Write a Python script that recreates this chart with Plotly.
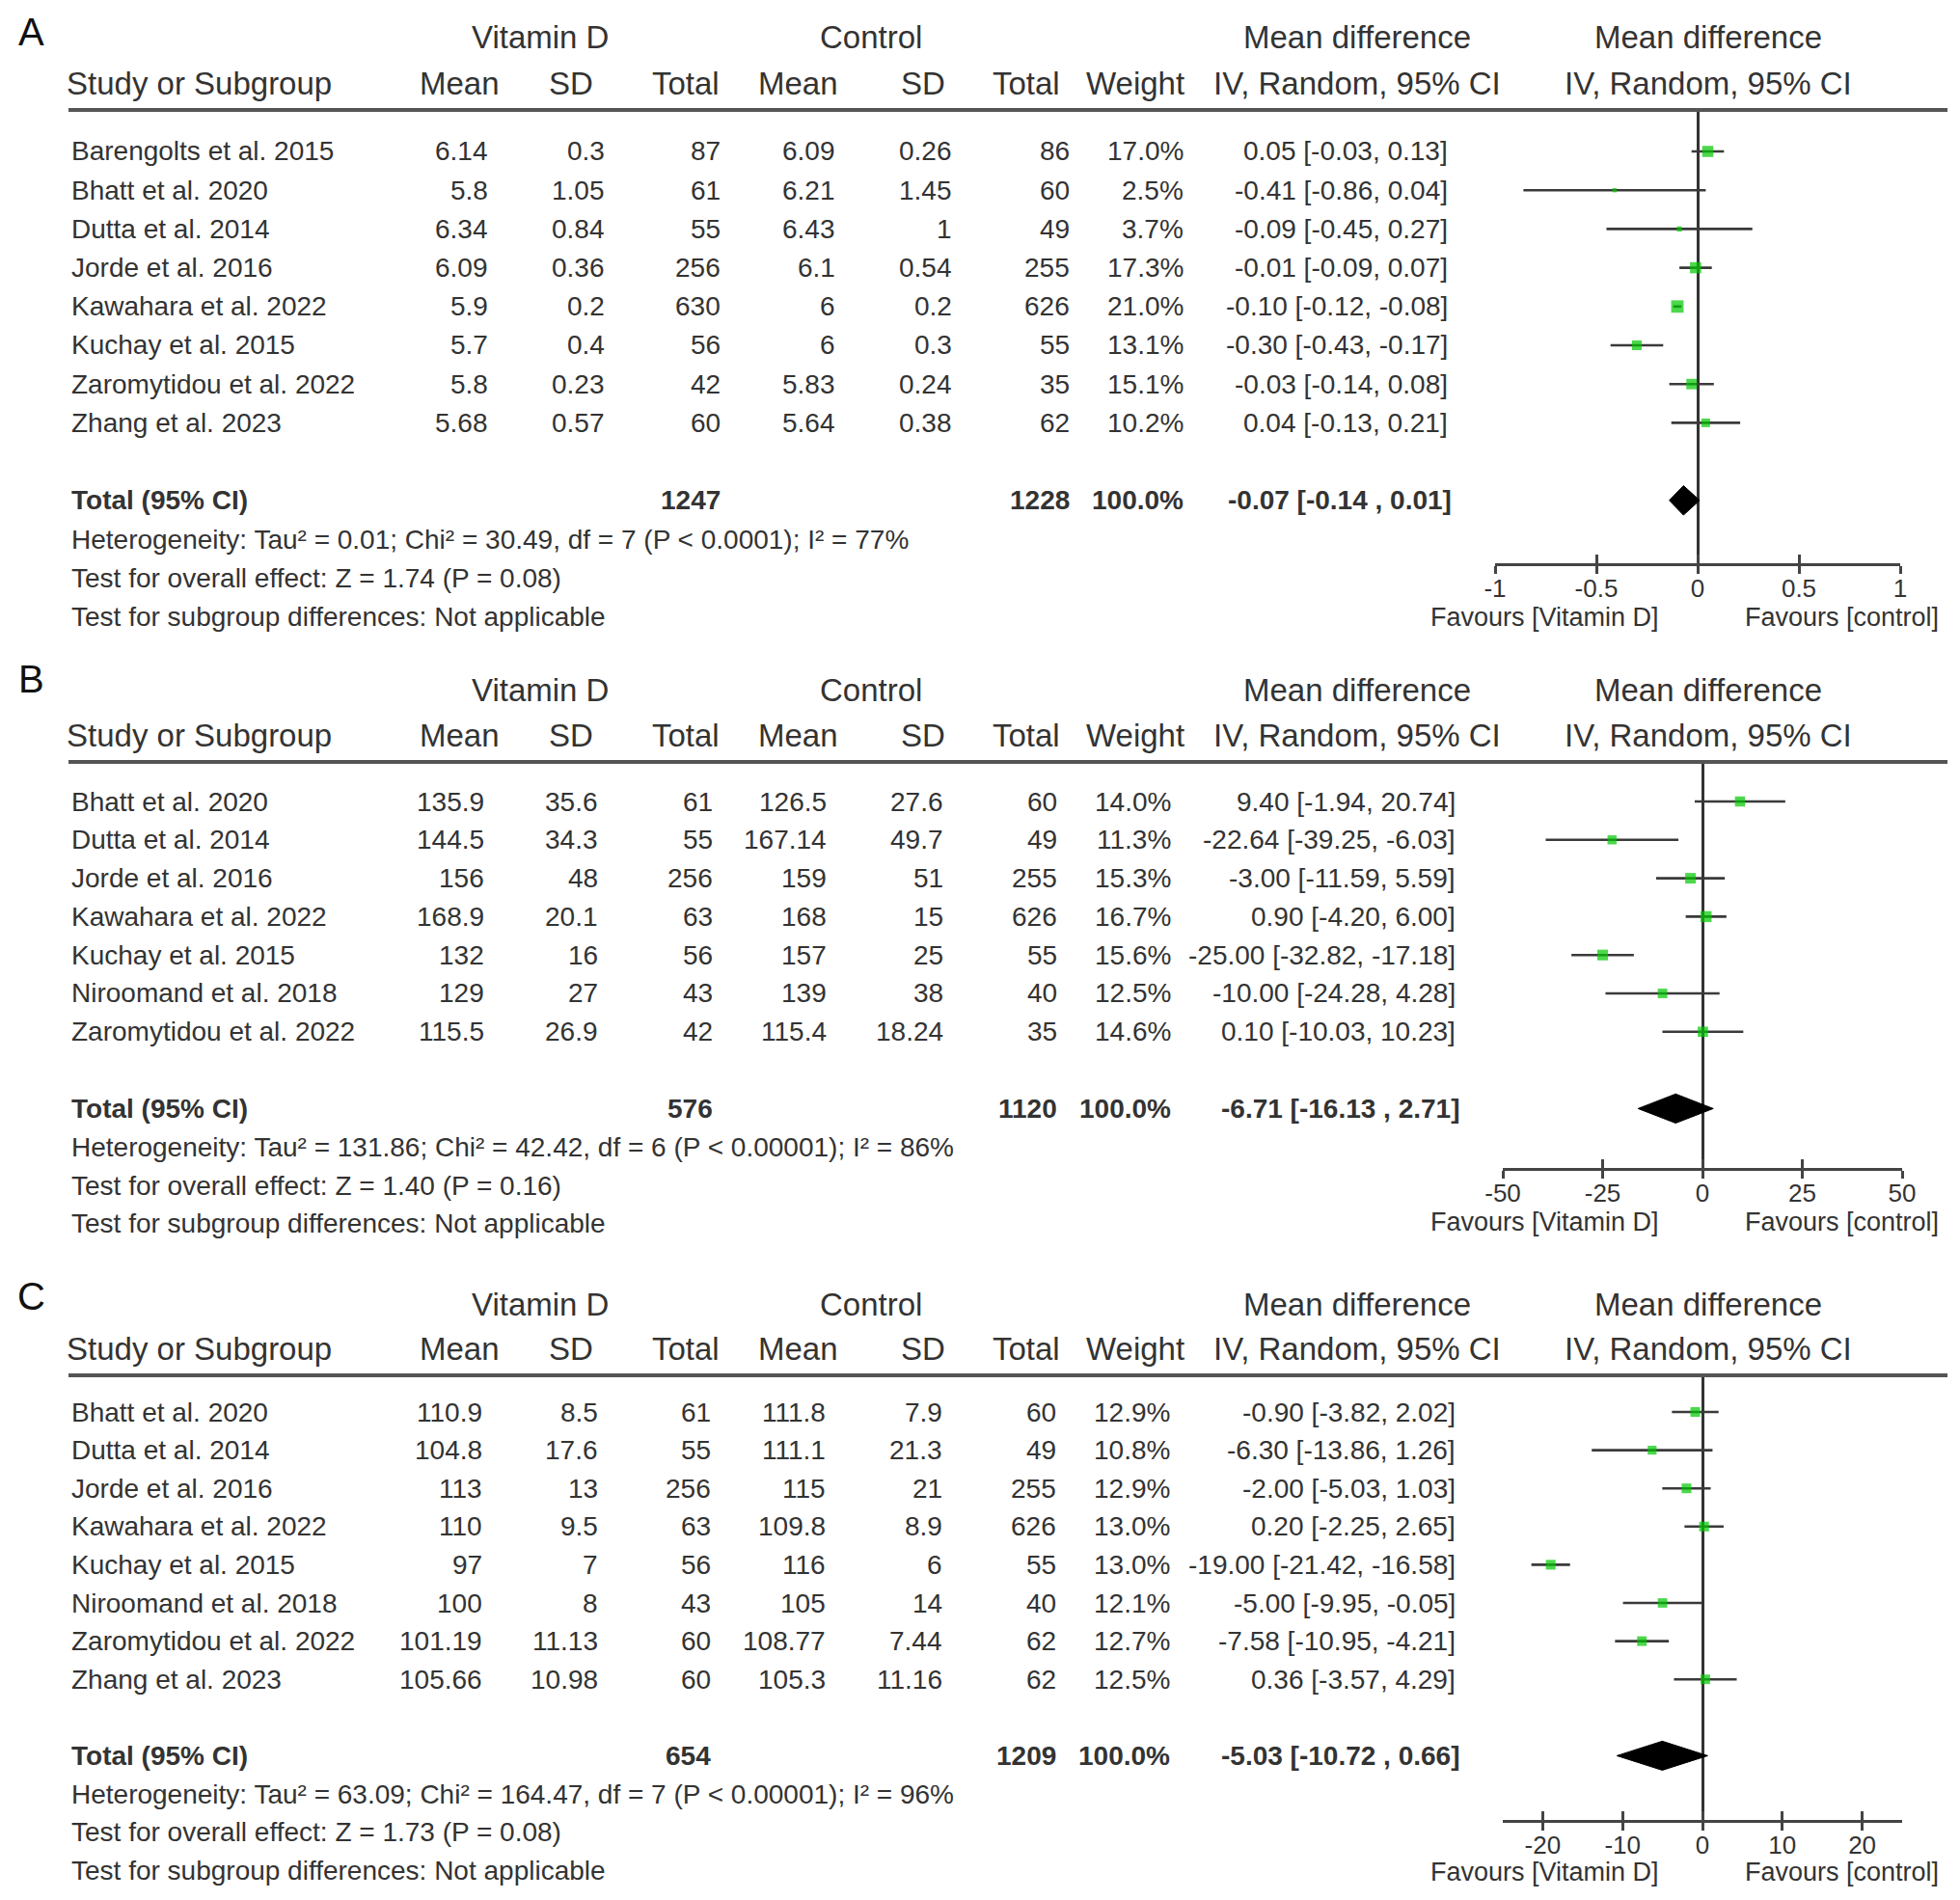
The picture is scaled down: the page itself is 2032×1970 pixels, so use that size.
import math
import plotly.graph_objects as go

W, H = 2032, 1970

# ---------------- Panel A data ----------------
a_studies = ["Barengolts et al. 2015", "Bhatt et al. 2020", "Dutta et al. 2014", "Jorde et al. 2016",
             "Kawahara et al. 2022", "Kuchay et al. 2015", "Zaromytidou et al. 2022", "Zhang et al. 2023"]
a_vit_mean = [6.14, 5.8, 6.34, 6.09, 5.9, 5.7, 5.8, 5.68]
a_vit_sd = [0.3, 1.05, 0.84, 0.36, 0.2, 0.4, 0.23, 0.57]
a_vit_n = [87, 61, 55, 256, 630, 56, 42, 60]
a_ctl_mean = [6.09, 6.21, 6.43, 6.1, 6, 6, 5.83, 5.64]
a_ctl_sd = [0.26, 1.45, 1, 0.54, 0.2, 0.3, 0.24, 0.38]
a_ctl_n = [86, 60, 49, 255, 626, 55, 35, 62]
a_weight = [17.0, 2.5, 3.7, 17.3, 21.0, 13.1, 15.1, 10.2]
a_md = [0.05, -0.41, -0.09, -0.01, -0.10, -0.30, -0.03, 0.04]
a_lo = [-0.03, -0.86, -0.45, -0.09, -0.12, -0.43, -0.14, -0.13]
a_hi = [0.13, 0.04, 0.27, 0.07, -0.08, -0.17, 0.08, 0.21]
a_total = {"vit_n": 1247, "ctl_n": 1228, "weight": 100.0, "md": -0.07, "lo": -0.14, "hi": 0.01}
a_notes = ["Heterogeneity: Tau² = 0.01; Chi² = 30.49, df = 7 (P < 0.0001); I² = 77%",
           "Test for overall effect: Z = 1.74 (P = 0.08)",
           "Test for subgroup differences: Not applicable"]
a_ticks = [-1, -0.5, 0, 0.5, 1]
a_range = [-1, 1]

# ---------------- Panel B data ----------------
b_studies = ["Bhatt et al. 2020", "Dutta et al. 2014", "Jorde et al. 2016", "Kawahara et al. 2022",
             "Kuchay et al. 2015", "Niroomand et al. 2018", "Zaromytidou et al. 2022"]
b_vit_mean = [135.9, 144.5, 156, 168.9, 132, 129, 115.5]
b_vit_sd = [35.6, 34.3, 48, 20.1, 16, 27, 26.9]
b_vit_n = [61, 55, 256, 63, 56, 43, 42]
b_ctl_mean = [126.5, 167.14, 159, 168, 157, 139, 115.4]
b_ctl_sd = [27.6, 49.7, 51, 15, 25, 38, 18.24]
b_ctl_n = [60, 49, 255, 626, 55, 40, 35]
b_weight = [14.0, 11.3, 15.3, 16.7, 15.6, 12.5, 14.6]
b_md = [9.40, -22.64, -3.00, 0.90, -25.00, -10.00, 0.10]
b_lo = [-1.94, -39.25, -11.59, -4.20, -32.82, -24.28, -10.03]
b_hi = [20.74, -6.03, 5.59, 6.00, -17.18, 4.28, 10.23]
b_total = {"vit_n": 576, "ctl_n": 1120, "weight": 100.0, "md": -6.71, "lo": -16.13, "hi": 2.71}
b_notes = ["Heterogeneity: Tau² = 131.86; Chi² = 42.42, df = 6 (P < 0.00001); I² = 86%",
           "Test for overall effect: Z = 1.40 (P = 0.16)",
           "Test for subgroup differences: Not applicable"]
b_ticks = [-50, -25, 0, 25, 50]
b_range = [-50, 50]

# ---------------- Panel C data ----------------
c_studies = ["Bhatt et al. 2020", "Dutta et al. 2014", "Jorde et al. 2016", "Kawahara et al. 2022",
             "Kuchay et al. 2015", "Niroomand et al. 2018", "Zaromytidou et al. 2022", "Zhang et al. 2023"]
c_vit_mean = [110.9, 104.8, 113, 110, 97, 100, 101.19, 105.66]
c_vit_sd = [8.5, 17.6, 13, 9.5, 7, 8, 11.13, 10.98]
c_vit_n = [61, 55, 256, 63, 56, 43, 60, 60]
c_ctl_mean = [111.8, 111.1, 115, 109.8, 116, 105, 108.77, 105.3]
c_ctl_sd = [7.9, 21.3, 21, 8.9, 6, 14, 7.44, 11.16]
c_ctl_n = [60, 49, 255, 626, 55, 40, 62, 62]
c_weight = [12.9, 10.8, 12.9, 13.0, 13.0, 12.1, 12.7, 12.5]
c_md = [-0.90, -6.30, -2.00, 0.20, -19.00, -5.00, -7.58, 0.36]
c_lo = [-3.82, -13.86, -5.03, -2.25, -21.42, -9.95, -10.95, -3.57]
c_hi = [2.02, 1.26, 1.03, 2.65, -16.58, -0.05, -4.21, 4.29]
c_total = {"vit_n": 654, "ctl_n": 1209, "weight": 100.0, "md": -5.03, "lo": -10.72, "hi": 0.66}
c_notes = ["Heterogeneity: Tau² = 63.09; Chi² = 164.47, df = 7 (P < 0.00001); I² = 96%",
           "Test for overall effect: Z = 1.73 (P = 0.08)",
           "Test for subgroup differences: Not applicable"]
c_ticks = [-20, -10, 0, 10, 20]
c_range = [-25, 25]

# ---------------- layout constants (pixels, page coordinates) ----------------
panels = [
    dict(letter="A", studies=a_studies, vm=a_vit_mean, vs=a_vit_sd, vn=a_vit_n, cm=a_ctl_mean, cs=a_ctl_sd,
         cn=a_ctl_n, w=a_weight, md=a_md, lo=a_lo, hi=a_hi, tot=a_total, notes=a_notes, ticks=a_ticks,
         rng=a_range, y0=157, dy=40.2, letter_y=33, h1=39, h2=86, line=114, axis=584,
         xd=(1550, 1970), cols=[508, 629, 749, 868, 989, 1111, 1229, 1503], fav=640),
    dict(letter="B", studies=b_studies, vm=b_vit_mean, vs=b_vit_sd, vn=b_vit_n, cm=b_ctl_mean, cs=b_ctl_sd,
         cn=b_ctl_n, w=b_weight, md=b_md, lo=b_lo, hi=b_hi, tot=b_total, notes=b_notes, ticks=b_ticks,
         rng=b_range, y0=831, dy=39.8, letter_y=704, h1=715, h2=762, line=790, axis=1211,
         xd=(1558, 1972), cols=[504, 622, 741, 859, 980, 1098, 1216, 1511], fav=1267),
    dict(letter="C", studies=c_studies, vm=c_vit_mean, vs=c_vit_sd, vn=c_vit_n, cm=c_ctl_mean, cs=c_ctl_sd,
         cn=c_ctl_n, w=c_weight, md=c_md, lo=c_lo, hi=c_hi, tot=c_total, notes=c_notes, ticks=c_ticks,
         rng=c_range, y0=1464, dy=39.6, letter_y=1344, h1=1352, h2=1398, line=1426, axis=1887,
         xd=(1558, 1972), cols=[502, 622, 739, 858, 979, 1097, 1215, 1511], fav=1941),
]

FONT = "Liberation Sans, Arial, sans-serif"
TXT = "#333333"
ROW_FS = 28
HDR_FS = 33
OFF = 8  # page body margin

fig = go.Figure()
annotations = []
shapes = []


def px_x(x):
    return (x - OFF) / W


def px_y(y):
    return 1 - (y - OFF) / H


def ann(text, x, y, anchor="left", size=ROW_FS, bold=False, color=TXT):
    annotations.append(dict(
        text=f"<b>{text}</b>" if bold else text, x=px_x(x), y=px_y(y), xref="paper", yref="paper",
        xanchor=anchor, yanchor="middle", showarrow=False,
        font=dict(family=FONT, size=size, color=color)))


def g(v):
    return f"{v:g}"


layout_axes = {}
for k, p in enumerate(panels, start=1):
    xa = "x" if k == 1 else f"x{k}"
    ya = "y" if k == 1 else f"y{k}"
    n = len(p["studies"])
    y0, dy = p["y0"], p["dy"]

    def row_px(r, y0=y0, dy=dy):
        return y0 + dy * r

    rows = list(range(n))
    r_total = n + 1

    # ---- text ----
    ann(p["letter"], 32, p["letter_y"], anchor="center", size=40, color="#111111")
    ann("Vitamin D", 560, p["h1"], "center", HDR_FS)
    ann("Control", 903, p["h1"], "center", HDR_FS)
    ann("Mean difference", 1407, p["h1"], "center", HDR_FS)
    ann("Mean difference", 1771, p["h1"], "center", HDR_FS)
    ann("Study or Subgroup", 67, p["h2"], "left", HDR_FS)
    for t, xc in zip(["Mean", "SD", "Total", "Mean", "SD", "Total", "Weight", "IV, Random, 95% CI",
                      "IV, Random, 95% CI"],
                     [476, 592, 711, 827, 957, 1064, 1177, 1407, 1771]):
        ann(t, xc, p["h2"], "center", HDR_FS)

    cols = p["cols"]
    for i in rows:
        yp = row_px(i)
        ann(p["studies"][i], 72, yp)
        vals = [g(p["vm"][i]), g(p["vs"][i]), str(p["vn"][i]), g(p["cm"][i]), g(p["cs"][i]),
                str(p["cn"][i]), f"{p['w'][i]:.1f}%",
                f"{p['md'][i]:.2f} [{p['lo'][i]:.2f}, {p['hi'][i]:.2f}]"]
        for v, xc in zip(vals, cols):
            ann(v, xc, yp, "right")

    tot = p["tot"]
    yt = row_px(r_total)
    ann("Total (95% CI)", 72, yt, bold=True)
    ann(str(tot["vit_n"]), cols[2], yt, "right", bold=True)
    ann(str(tot["ctl_n"]), cols[5], yt, "right", bold=True)
    ann(f"{tot['weight']:.1f}%", cols[6], yt, "right", bold=True)
    ann(f"{tot['md']:.2f} [{tot['lo']:.2f} , {tot['hi']:.2f}]", cols[7] + 4, yt, "right", bold=True)
    for j, note in enumerate(p["notes"]):
        ann(note, 72, row_px(r_total + 1 + j))

    ann("Favours [Vitamin D]", 1722, p["fav"], "right", 27)
    ann("Favours [control]", 2012, p["fav"], "right", 27)

    # header rule
    shapes.append(dict(type="line", xref="paper", yref="paper", x0=px_x(71), x1=px_x(2019),
                       y0=px_y(p["line"]), y1=px_y(p["line"]), line=dict(color="#555555", width=4)))

    # ---- forest marks ----
    cx, cy = [], []
    for i in rows:
        cx += [p["lo"][i], p["hi"][i], None]
        cy += [i, i, None]
    fig.add_trace(go.Scatter(x=cx, y=cy, mode="lines", line=dict(color="#3a3a3a", width=2.6),
                             xaxis=xa, yaxis=ya, hoverinfo="skip", showlegend=False))
    fig.add_trace(go.Scatter(x=p["md"], y=rows, mode="markers",
                             marker=dict(symbol="square", color="#00c800",
                                         size=[2.8 * math.sqrt(w) for w in p["w"]], line=dict(width=0)),
                             xaxis=xa, yaxis=ya, showlegend=False))
    hh = 0.38
    fig.add_trace(go.Scatter(x=[tot["lo"], tot["md"], tot["hi"], tot["md"], tot["lo"]],
                             y=[r_total, r_total - hh, r_total, r_total + hh, r_total],
                             mode="lines", fill="toself", fillcolor="#000000",
                             line=dict(color="#000000", width=1), xaxis=xa, yaxis=ya, showlegend=False))

    # axes
    r_axis = (p["axis"] - y0) / dy
    r_line = (p["line"] - y0) / dy
    dom_y = [px_y(p["axis"]), px_y(p["line"])]
    dom_x = [px_x(p["xd"][0]), px_x(p["xd"][1])]
    key_x = "xaxis" if k == 1 else f"xaxis{k}"
    key_y = "yaxis" if k == 1 else f"yaxis{k}"
    layout_axes[key_x] = dict(domain=dom_x, range=p["rng"], anchor=ya, showgrid=False, automargin=False,
                              zeroline=True, zerolinecolor="#333333", zerolinewidth=2.6,
                              showline=True, linecolor="#444444", linewidth=2.6,
                              ticks="outside", ticklen=8, tickwidth=2.6, tickcolor="#444444",
                              ticklabelstandoff=-7,
                              tickvals=p["ticks"], ticktext=[g(t) for t in p["ticks"]],
                              tickfont=dict(family=FONT, size=26, color=TXT), fixedrange=True)
    layout_axes[key_y] = dict(domain=dom_y, range=[r_axis, r_line], anchor=xa, visible=False,
                              automargin=False, fixedrange=True)
    # overlay axis for the upward half of the ticks
    k2 = k + 3
    layout_axes[f"xaxis{k2}"] = dict(overlaying=xa, matches=xa, anchor=ya, range=p["rng"],
                                     showgrid=False, zeroline=False, showline=False, automargin=False,
                                     ticks="inside", ticklen=9, tickwidth=2.6, tickcolor="#444444",
                                     tickvals=p["ticks"], showticklabels=False, fixedrange=True)
    fig.add_trace(go.Scatter(x=[p["rng"][0]], y=[r_axis], mode="markers", marker=dict(opacity=0),
                             xaxis=f"x{k2}", yaxis=ya, hoverinfo="skip", showlegend=False))

fig.update_layout(template="none", width=W, height=H, autosize=False,
                  margin=dict(l=0, r=0, t=0, b=0, pad=0),
                  paper_bgcolor="white", plot_bgcolor="rgba(0,0,0,0)", showlegend=False,
                  annotations=annotations, shapes=shapes, **layout_axes)

fig.write_html("out.html")
